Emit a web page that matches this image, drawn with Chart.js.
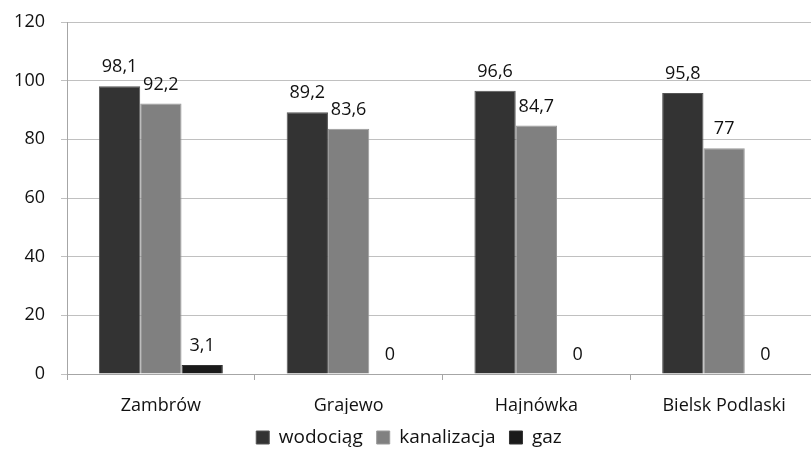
<!DOCTYPE html>
<html>
<head>
<meta charset="utf-8">
<script src="https://cdn.jsdelivr.net/npm/chart.js@4/dist/chart.umd.min.js"></script>
<style>
  html, body { margin: 0; padding: 0; background: #fff; overflow: hidden; }
  #wrap { width: 818px; height: 457px; }
</style>
</head>
<body>
<div id="wrap"><canvas id="c" width="818" height="457"></canvas></div>
<script>
const categories = ['Zambrów', 'Grajewo', 'Hajnówka', 'Bielsk Podlaski'];
const wodociag = [98.1, 89.2, 96.6, 95.8];
const kanalizacja = [92.2, 83.6, 84.7, 77];
const gaz = [3.1, 0, 0, 0];
const yTicks = [0, 20, 40, 60, 80, 100, 120];

const FONT = "'Open Sans', sans-serif";

const valueLabels = {
  id: 'valueLabels',
  afterDatasetsDraw(chart) {
    const ctx = chart.ctx;
    ctx.save();
    ctx.font = '18px ' + FONT;
    ctx.fillStyle = '#111';
    ctx.textAlign = 'center';
    ctx.textBaseline = 'alphabetic';
    chart.data.datasets.forEach((ds, i) => {
      chart.getDatasetMeta(i).data.forEach((bar, j) => {
        const txt = String(ds.data[j]).replace('.', ',');
        ctx.fillText(txt, bar.x, bar.y - 14);
      });
    });
    ctx.restore();
  }
};

new Chart(document.getElementById('c').getContext('2d'), {
  type: 'bar',
  data: {
    labels: categories,
    datasets: [
      { label: 'wodociąg', data: wodociag, backgroundColor: '#333333', borderColor: '#555', borderWidth: 1 },
      { label: 'kanalizacja', data: kanalizacja, backgroundColor: '#808080', borderColor: '#999', borderWidth: 1 },
      { label: 'gaz', data: gaz, backgroundColor: '#1a1a1a', borderColor: '#333', borderWidth: 1 }
    ]
  },
  options: {
    responsive: false,
    animation: false,
    datasets: { bar: { categoryPercentage: 0.66, barPercentage: 1 } },
    layout: { padding: { top: 22, right: 0, left: 0, bottom: 0 } },
    plugins: {
      tooltip: { enabled: false },
      legend: {
        position: 'bottom',
        labels: {
          color: '#111',
          font: { family: FONT, size: 19 },
          boxWidth: 13,
          boxHeight: 13,
          padding: 14
        }
      }
    },
    scales: {
      x: {
        offset: true,
        grid: { offset: true, drawOnChartArea: false, drawTicks: true, tickLength: 6, color: '#a6a6a6' },
        border: { color: '#a6a6a6' },
        ticks: { color: '#111', font: { family: FONT, size: 18 }, padding: 15, maxRotation: 0 },
        afterFit: s => { s.height = 40; }
      },
      y: {
        min: 0,
        max: 120,
        afterBuildTicks: s => { s.ticks = yTicks.map(v => ({ value: v })); },
        grid: { color: '#c0c0c0', tickLength: 6 },
        border: { color: '#a6a6a6' },
        ticks: { color: '#111', font: { family: FONT, size: 18 }, padding: 16 },
        afterFit: s => { s.width = 67; s.paddingTop = 0; s.paddingBottom = 0; }
      }
    }
  },
  plugins: [valueLabels]
});
</script>
</body>
</html>
